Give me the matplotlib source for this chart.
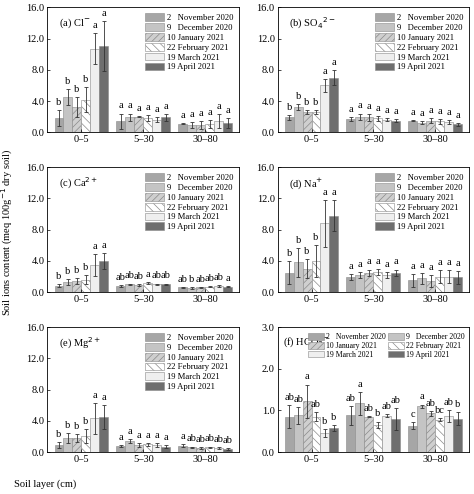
import numpy as np
import matplotlib
matplotlib.use('Agg')
import matplotlib.pyplot as plt

plt.rcParams['font.family'] = ['Liberation Serif', 'DejaVu Serif']
plt.rcParams['font.size'] = 7.5
plt.rcParams['hatch.linewidth'] = 0.5

# ======================================================================
# Data
# ======================================================================
layers = ['0\u20135', '5\u201330', '30\u201380']
dates = ['2   November 2020', '9   December 2020', '10 January 2021',
         '22 February 2021', '19 March 2021', '19 April 2021']

cl_mean = [[1.8, 4.5, 3.2, 4.2, 10.7, 11.1], [1.4, 1.9, 2.0, 1.8, 1.6, 1.9], [1.1, 0.9, 0.9, 1.1, 1.4, 1.2]]
cl_err = [[1.0, 1.0, 1.3, 1.6, 2.0, 3.2], [1.0, 0.5, 0.1, 0.4, 0.3, 0.4], [0.05, 0.4, 0.5, 0.5, 0.9, 0.6]]
cl_let = [list('bbbbaa'), list('aaaaaa'), list('aaaaaa')]

so4_mean = [[1.9, 3.2, 2.6, 2.6, 6.0, 7.0], [1.7, 2.0, 1.9, 1.8, 1.6, 1.5], [1.5, 1.2, 1.5, 1.4, 1.3, 1.0]]
so4_err = [[0.3, 0.4, 0.3, 0.2, 0.8, 1.0], [0.3, 0.4, 0.4, 0.3, 0.2, 0.2], [0.1, 0.2, 0.3, 0.3, 0.3, 0.2]]
so4_let = [list('bbbbaa'), list('aaaaaa'), list('aaaaaa')]

ca_mean = [[0.8, 1.3, 1.4, 1.6, 3.5, 4.0], [0.8, 1.0, 0.9, 1.2, 1.0, 1.0], [0.6, 0.5, 0.6, 0.7, 0.8, 0.7]]
ca_err = [[0.2, 0.4, 0.4, 0.6, 1.4, 1.0], [0.1, 0.1, 0.1, 0.1, 0.1, 0.1], [0.1, 0.1, 0.1, 0.1, 0.1, 0.1]]
ca_let = [list('bbbbaa'), ['ab', 'ab', 'ab', 'a', 'ab', 'ab'], ['ab', 'b', 'ab', 'ab', 'ab', 'a']]

na_mean = [[2.5, 3.8, 3.0, 4.0, 8.8, 9.8], [1.9, 2.2, 2.5, 2.6, 2.2, 2.5], [1.5, 1.8, 1.4, 2.0, 2.0, 1.9]]
na_err = [[1.5, 1.8, 1.2, 2.0, 3.0, 2.0], [0.4, 0.4, 0.4, 0.4, 0.4, 0.4], [0.8, 0.7, 0.8, 0.8, 0.8, 0.8]]
na_let = [list('bbbbaa'), list('aaaaaa'), list('aaaaaa')]

mg_mean = [[0.9, 1.8, 1.8, 2.0, 4.3, 4.5], [0.8, 1.4, 0.9, 1.0, 0.9, 0.7], [0.8, 0.6, 0.5, 0.6, 0.5, 0.4]]
mg_err = [[0.4, 0.6, 0.5, 0.9, 2.0, 1.5], [0.1, 0.3, 0.2, 0.2, 0.2, 0.2], [0.2, 0.1, 0.1, 0.1, 0.1, 0.1]]
mg_let = [list('bbbbaa'), list('aaaaaa'), ['a', 'ab', 'ab', 'ab', 'ab', 'ab']]

hco3_mean = [[0.85, 0.88, 1.22, 0.85, 0.45, 0.58], [0.88, 1.17, 0.85, 0.65, 0.87, 0.79], [0.63, 1.10, 0.93, 0.78, 0.86, 0.80]]
hco3_err = [[0.28, 0.20, 0.40, 0.10, 0.10, 0.07], [0.22, 0.27, 0.01, 0.08, 0.04, 0.26], [0.08, 0.04, 0.06, 0.04, 0.14, 0.15]]
hco3_let = [['ab', 'ab', 'a', 'ab', 'b', 'b'], ['ab', 'a', 'ab', 'b', 'ab', 'ab'], ['c', 'a', 'ab', 'bc', 'ab', 'b']]

colors = ['#a6a6a6', '#c4c4c4', '#cfcfcf', '#ffffff', '#efefef', '#6e6e6e']
hatches = [None, None, '/////', '\\\\\\\\', None, None]

panels = [('(a) Cl$^{-}$', cl_mean, cl_err, cl_let, 16),
          ('(b) SO$_4$$^{2-}$', so4_mean, so4_err, so4_let, 16),
          ('(c) Ca$^{2+}$', ca_mean, ca_err, ca_let, 16),
          ('(d) Na$^{+}$', na_mean, na_err, na_let, 16),
          ('(e) Mg$^{2+}$', mg_mean, mg_err, mg_let, 16),
          ('(f) HCO$_3$$^{-}$', hco3_mean, hco3_err, hco3_let, 3)]

# ======================================================================
# Plot
# ======================================================================
fig, axes = plt.subplots(3, 2, figsize=(4.74, 4.94), dpi=100)
fig.subplots_adjust(left=0.1, right=0.99, top=0.985, bottom=0.085, hspace=0.28, wspace=0.2)

w = 0.145
x = np.arange(3)
for ax, (title, mean, err, lets, ymax) in zip(axes.flat, panels):
    handles = []
    for j in range(6):
        xs = x + (j - 2.5) * w
        m = [mean[i][j] for i in range(3)]
        e = [err[i][j] for i in range(3)]
        h = ax.bar(xs, m, w, yerr=e, color=colors[j], hatch=hatches[j], edgecolor='#8a8a8a',
                   linewidth=0.4, error_kw=dict(elinewidth=0.6, capsize=1.5, capthick=0.6, ecolor='#333333'),
                   label=dates[j])
        handles.append(h)
        for i in range(3):
            ax.text(xs[i], m[i] + e[i] + ymax * 0.025, lets[i][j], ha='center', va='bottom', fontsize=7.5)
    ax.set_ylim(0, ymax)
    ax.set_xlim(-0.55, 2.55)
    ax.set_xticks(x)
    ax.set_xticklabels(layers)
    if ymax == 16:
        ax.set_yticks([0, 4, 8, 12, 16])
    else:
        ax.set_yticks([0, 1, 2, 3])
    ax.yaxis.set_major_formatter(matplotlib.ticker.FormatStrFormatter('%.1f'))
    ax.tick_params(direction='in', length=2, width=0.5, labelsize=7.5, pad=2)
    for s in ax.spines.values():
        s.set_linewidth(0.6)
    if ymax == 16:
        ax.text(0.06, 0.93, title, transform=ax.transAxes, va='top', fontsize=7.5)
        ax.legend(loc='upper right', fontsize=6.2, frameon=False, handlelength=2.2, handleheight=1.0,
                  labelspacing=0.12, handletextpad=0.3, borderaxespad=0.3)
    else:
        ax.text(0.03, 0.93, title, transform=ax.transAxes, va='top', fontsize=7.5)
        order = [0, 2, 4, 1, 3, 5]
        ax.legend([handles[k] for k in order], [dates[k] for k in order], loc='upper right', ncol=2,
                  fontsize=5.6, frameon=False, handlelength=2.0, handleheight=0.9, labelspacing=0.12,
                  columnspacing=0.3, handletextpad=0.3, borderaxespad=0.2, bbox_to_anchor=(1.0, 0.99))

fig.text(0.015, 0.53, 'Soil ions content (meq 100g$^{-1}$ dry soil)', rotation=90, va='center', ha='center', fontsize=7.5)
fig.text(0.03, 0.015, 'Soil layer (cm)', fontsize=7.5)

plt.savefig('out.png', dpi=100)
